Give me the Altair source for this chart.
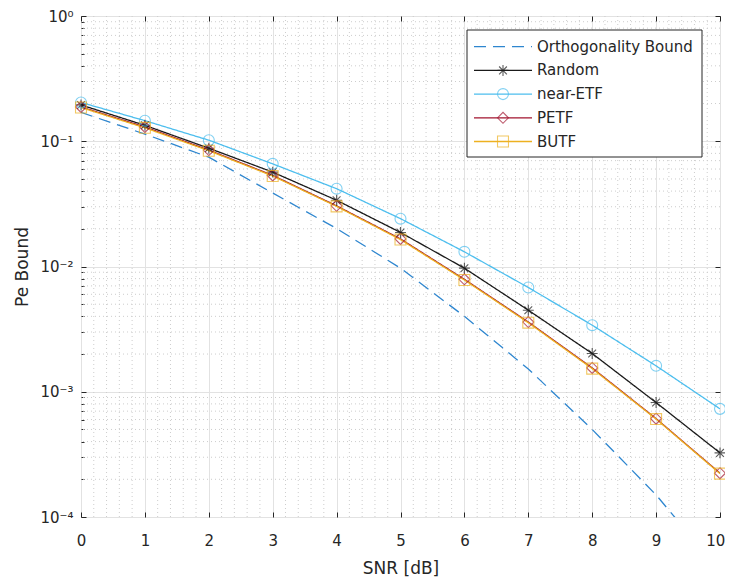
import altair as alt
import pandas as pd

# ---------------- data ----------------
snr = [0, 1, 2, 3, 4, 5, 6, 7, 8, 9, 10]
series_names = ["Orthogonality Bound", "Random", "near-ETF", "PETF", "BUTF"]
ortho = [0.170, 0.114, 0.0746, 0.0386, 0.0201, 0.0097, 0.0040, 0.00152, 0.00050, 0.00015, 0.000037]
random_ = [0.195, 0.134, 0.088, 0.0567, 0.0338, 0.0187, 0.0097, 0.00448, 0.00202, 0.00082, 0.000325]
near_etf = [0.204, 0.146, 0.102, 0.066, 0.0418, 0.0241, 0.0131, 0.0068, 0.0034, 0.00161, 0.00073]
petf = [0.188, 0.130, 0.085, 0.0534, 0.0305, 0.0166, 0.0079, 0.0036, 0.00155, 0.00061, 0.000224]
butf = [0.186, 0.128, 0.084, 0.0528, 0.0302, 0.0164, 0.0078, 0.00356, 0.00153, 0.000605, 0.000222]

y_major = [1e-4, 1e-3, 1e-2, 1e-1, 1.0]
y_minor = [k * 10.0 ** e for e in range(-4, 0) for k in range(2, 10)]
x_major = [0, 1, 2, 3, 4, 5, 6, 7, 8, 9, 10]
x_minor = [i + f for i in range(10) for f in (0.2, 0.4, 0.6, 0.8)]

colors = ["#2e86cf", "#1a1a1a", "#4DBEEE", "#A2142F", "#EDB120"]
dashes = [[12, 7], [1, 0], [1, 0], [1, 0], [1, 0]]
marker_series = ["Random", "near-ETF", "PETF", "BUTF"]
asterisk = "M-1,0L1,0M0,-1L0,1M-0.71,-0.71L0.71,0.71M-0.71,0.71L0.71,-0.71"
marker_shapes = [asterisk, "circle", "diamond", "square"]
legend_rows = [0, 1, 2, 3, 4]

values = [ortho, random_, near_etf, petf, butf]
df = pd.DataFrame(
    [{"snr": s, "pe": v, "series": name}
     for name, vals in zip(series_names, values)
     for s, v in zip(snr, vals)]
)
minor_y_df = pd.DataFrame({"v": y_minor})
minor_x_df = pd.DataFrame({"v": x_minor})
legend_df = pd.DataFrame({"series": series_names, "row": legend_rows})
box_df = pd.DataFrame({"a": [0]})

FONT = "DejaVu Sans"
TXT = "#262626"

x_scale = alt.Scale(domain=[0, 10], nice=False, zero=False)
y_scale = alt.Scale(type="log", domain=[1e-4, 1], nice=False)
color_scale = alt.Scale(domain=series_names, range=colors)
dash_scale = alt.Scale(domain=series_names, range=dashes)
shape_scale = alt.Scale(domain=marker_series, range=marker_shapes)

label_expr = ("datum.value >= 0.5 ? '10⁰' : datum.value >= 0.05 ? '10⁻¹' : "
              "datum.value >= 0.005 ? '10⁻²' : datum.value >= 0.0005 ? '10⁻³' : '10⁻⁴'")

x_axis_bottom = alt.Axis(values=x_major, title="SNR [dB]", grid=True, gridColor="#e2e2e2",
                         tickSize=5, offset=-5, domain=False, tickColor=TXT, labelPadding=16,
                         labelFlush=True, labelFlushOffset=4.75, titlePadding=12, orient="bottom")
x_axis_top = alt.Axis(values=x_major, title=None, grid=False, labels=False, tickSize=5,
                      offset=-5, domain=False, tickColor=TXT, orient="top")
y_axis_left = alt.Axis(values=y_major, title="Pe Bound", grid=True, gridColor="#e2e2e2",
                       tickSize=5, offset=-5, domain=False, tickColor=TXT, labelPadding=8,
                       labelExpr=label_expr, titlePadding=8, orient="left")
y_axis_right = alt.Axis(values=y_major, title=None, grid=False, labels=False, tickSize=5,
                        offset=-5, domain=False, tickColor=TXT, orient="right")
y_axis_minor = alt.Axis(values=y_minor, title=None, grid=False, labels=False, tickSize=3,
                        offset=-3, domain=False, tickColor=TXT, orient="left")

# ---------------- main plot ----------------
minor_x_layer = alt.Chart(minor_x_df).mark_rule(strokeDash=[1, 3], color="#cdcdcd", strokeWidth=1).encode(
    x=alt.X("v:Q", scale=x_scale, axis=None)
)
minor_y_layer = alt.Chart(minor_y_df).mark_rule(strokeDash=[1, 3], color="#cdcdcd", strokeWidth=1).encode(
    y=alt.Y("v:Q", scale=y_scale, axis=y_axis_minor)
)
line_layer = alt.Chart(df).mark_line(clip=True, strokeWidth=1.3).encode(
    x=alt.X("snr:Q", scale=x_scale, axis=x_axis_bottom),
    y=alt.Y("pe:Q", scale=y_scale, axis=y_axis_left),
    color=alt.Color("series:N", scale=color_scale, legend=None),
    strokeDash=alt.StrokeDash("series:N", scale=dash_scale, legend=None),
)
point_layer = alt.Chart(df).transform_filter(
    alt.FieldOneOfPredicate(field="series", oneOf=marker_series)
).mark_point(filled=False, size=120, strokeWidth=1.1).encode(
    x=alt.X("snr:Q", scale=x_scale, axis=x_axis_top),
    y=alt.Y("pe:Q", scale=y_scale, axis=y_axis_right),
    color=alt.Color("series:N", scale=color_scale, legend=None),
    shape=alt.Shape("series:N", scale=shape_scale, legend=None),
)
main = alt.layer(minor_x_layer, minor_y_layer, line_layer, point_layer).resolve_axis(
    x="independent", y="independent"
)

# ---------------- legend (drawn as marks) ----------------
row_scale = alt.Scale(domain=[0, 4], range=[30.7, 125.5])
leg_box = alt.Chart(box_df).mark_rect(fill="white", stroke=TXT, strokeWidth=1).encode(
    x=alt.value(386), x2=alt.value(621), y=alt.value(14), y2=alt.value(141)
)
leg_lines = alt.Chart(legend_df).mark_rule(strokeWidth=1.3).encode(
    x=alt.value(393), x2=alt.value(451),
    y=alt.Y("row:Q", scale=row_scale, axis=None),
    color=alt.Color("series:N", scale=color_scale, legend=None),
    strokeDash=alt.StrokeDash("series:N", scale=dash_scale, legend=None),
)
leg_points = alt.Chart(legend_df).transform_filter(
    alt.FieldOneOfPredicate(field="series", oneOf=marker_series)
).mark_point(filled=False, size=120, strokeWidth=1.1).encode(
    x=alt.value(422),
    y=alt.Y("row:Q", scale=row_scale, axis=None),
    color=alt.Color("series:N", scale=color_scale, legend=None),
    shape=alt.Shape("series:N", scale=shape_scale, legend=None),
)
leg_text = alt.Chart(legend_df).mark_text(align="left", baseline="middle", font=FONT,
                                          fontSize=15, color=TXT).encode(
    x=alt.value(456),
    y=alt.Y("row:Q", scale=row_scale, axis=None),
    text="series:N",
)
legend = alt.layer(leg_box, leg_lines, leg_points, leg_text)

chart = alt.layer(main, legend).resolve_scale(
    x="independent", y="independent"
).properties(
    width=639, height=501,
    autosize=alt.AutoSizeParams(type="none"),
    padding={"left": 73, "top": 8, "right": 5, "bottom": 62},
).configure_view(
    stroke=TXT, strokeWidth=1
).configure_axis(
    labelFont=FONT, labelFontSize=15, labelColor=TXT,
    titleFont=FONT, titleFontSize=17, titleFontWeight="normal", titleColor=TXT,
)

chart.save("out.html", embed_options={"renderer": "svg", "actions": False})
